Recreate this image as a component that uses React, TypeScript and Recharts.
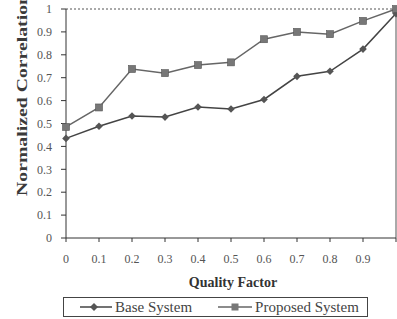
import { Line, LineChart, XAxis, YAxis, ReferenceLine, Legend } from "recharts";

const QUALITY = [0, 0.1, 0.2, 0.3, 0.4, 0.5, 0.6, 0.7, 0.8, 0.9, 1];
const BASE = [0.435, 0.488, 0.533, 0.528, 0.572, 0.563, 0.605, 0.706, 0.728, 0.825, 0.98];
const PROPOSED = [0.485, 0.57, 0.738, 0.72, 0.755, 0.767, 0.868, 0.9, 0.89, 0.948, 1.0];
const Y_TICKS = [0, 0.1, 0.2, 0.3, 0.4, 0.5, 0.6, 0.7, 0.8, 0.9, 1];

const data = QUALITY.map((q, i) => ({ q, base: BASE[i], proposed: PROPOSED[i] }));

const FONT = "'Liberation Serif', 'DejaVu Serif', serif";
const fmtY = (v: number) => (v === 0 || v === 1 ? String(v) : v.toFixed(1));
// the "1" label falls outside the picture in the original
const fmtX = (v: number) => (v === 1 ? "" : v === 0 ? "0" : v.toFixed(1));

const Diamond = (props: any) => {
  const { cx, cy, fill } = props;
  if (cx == null || cy == null) return null;
  const r = 3.8;
  return (
    <polygon
      points={`${cx},${cy - r} ${cx + r},${cy} ${cx},${cy + r} ${cx - r},${cy}`}
      fill={fill}
    />
  );
};

const Square = (props: any) => {
  const { cx, cy, fill } = props;
  if (cx == null || cy == null) return null;
  return <rect x={cx - 3.5} y={cy - 3.5} width={7} height={7} fill={fill} stroke="#555" strokeWidth={0.6} />;
};

const YLabel = () => (
  <text
    x={27}
    y={95}
    transform="rotate(-90 27 95)"
    textAnchor="middle"
    fontFamily={FONT}
    fontSize={14}
    fontWeight="bold"
    fill="#3a3a3a"
    textLength={202}
    lengthAdjust="spacingAndGlyphs"
  >
    Normalized Correlation
  </text>
);

const LegendBox = () => (
  <div style={{ paddingTop: 9, height: 22, fontFamily: FONT }}>
    <div
      style={{
        marginLeft: 63,
        width: 303,
        height: 18,
        border: "1px solid #444",
        display: "flex",
        alignItems: "center",
        fontSize: 15,
        color: "#444",
        lineHeight: "18px",
      }}
    >
      <svg width={32} height={10} style={{ marginLeft: 16 }}>
        <line x1={0} y1={5} x2={32} y2={5} stroke="#444" strokeWidth={1.5} />
        <polygon points="14,1 18,5 14,9 10,5" fill="#555" />
      </svg>
      <span style={{ marginLeft: 3 }}>Base System</span>
      <svg width={34} height={10} style={{ marginLeft: 26 }}>
        <line x1={0} y1={5} x2={34} y2={5} stroke="#666" strokeWidth={1.5} />
        <rect x={13.5} y={1.5} width={7} height={7} fill="#777" />
      </svg>
      <span style={{ marginLeft: 3 }}>Proposed System</span>
    </div>
  </div>
);

export default function App() {
  return (
    <div style={{ position: "absolute", left: 0, top: 0, width: 397, height: 319, overflow: "hidden", background: "#fff" }}>
      <LineChart width={420} height={319} data={data} margin={{ top: 9, right: 24, bottom: 0, left: 0 }}>
        <XAxis
          dataKey="q"
          type="number"
          domain={[0, 1]}
          ticks={QUALITY}
          tickFormatter={fmtX}
          height={50}
          tickSize={4}
          tickMargin={12}
          stroke="#333"
          tick={{ fill: "#555", fontSize: 12, fontFamily: FONT }}
          label={{
            value: "Quality Factor",
            position: "insideBottom",
            offset: 1,
            dx: 2,
            fill: "#333",
            fontSize: 14,
            fontWeight: "bold",
            fontFamily: FONT,
          }}
        />
        <YAxis
          type="number"
          domain={[0, 1]}
          ticks={Y_TICKS}
          tickFormatter={fmtY}
          width={66}
          tickSize={5}
          tickMargin={9}
          stroke="#333"
          tick={{ fill: "#555", fontSize: 12, fontFamily: FONT }}
          label={<YLabel />}
        />
        <ReferenceLine y={1} stroke="#555" strokeDasharray="2 2" />
        <ReferenceLine x={1} stroke="#555" />
        <Legend verticalAlign="bottom" content={<LegendBox />} />
        <Line
          dataKey="base"
          stroke="#444"
          strokeWidth={1.5}
          fill="#555"
          dot={<Diamond fill="#555" />}
          isAnimationActive={false}
        />
        <Line
          dataKey="proposed"
          stroke="#666"
          strokeWidth={1.5}
          fill="#777"
          dot={<Square fill="#777" />}
          isAnimationActive={false}
        />
      </LineChart>
    </div>
  );
}
